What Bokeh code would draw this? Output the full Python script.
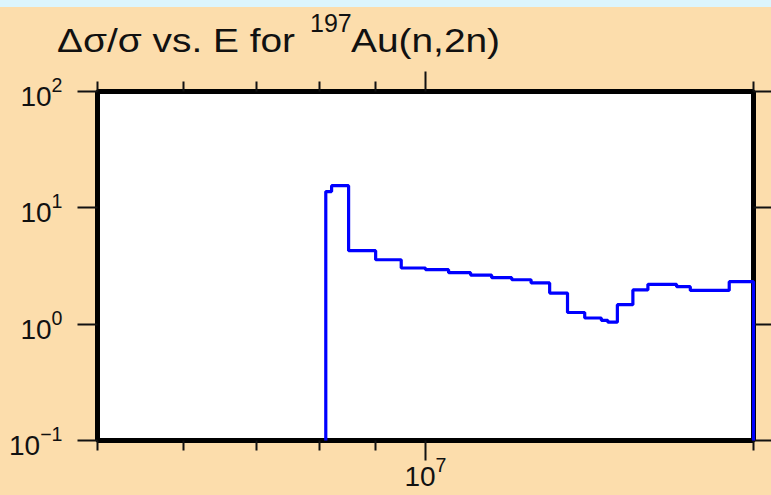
from bokeh.plotting import figure
from bokeh.models import LogAxis, FixedTicker, Div, CustomJSTickFormatter, LogTickFormatter
from bokeh.layouts import column
from bokeh.embed import file_html
from bokeh.resources import INLINE

# ---- data ----
title_main = "Δσ/σ vs. E for "
title_sup = "197"
title_tail = "Au(n,2n)"

# group boundaries (MeV) and relative uncertainty per group
edges_mev = [8.1, 8.2, 8.5, 9.0, 9.5, 10.0, 10.5, 11.0, 11.5, 12.0, 12.5, 13.0,
             13.5, 14.0, 14.5, 14.7, 15.0, 15.5, 16.0, 17.0, 17.5, 19.0, 20.0]
rel_unc = [13.8, 15.5, 4.28, 3.58, 3.04, 2.94, 2.77, 2.64, 2.51, 2.41, 2.26,
           1.85, 1.26, 1.13, 1.08, 1.04, 1.47, 1.97, 2.20, 2.10, 1.95, 2.32]

x_start_mev, x_end_mev = 5.0, 20.0
y_start, y_end = 0.1, 100.0
y_tick_exps = [-1, 0, 1, 2]
x_major_exps = [7]
x_minor_mev = [5, 6, 7, 8, 9, 20]

PEACH = "#FCDDAC"
CYAN = "#DCF5FD"
FONT = "Liberation Sans"

xs = [edges_mev[0] * 1e6] + [e * 1e6 for e in edges_mev]
ys = [y_start] + rel_unc + [y_start]

p = figure(width=771, height=427, x_axis_type="log", y_axis_type="log",
           x_range=(x_start_mev * 1e6, x_end_mev * 1e6), y_range=(y_start, y_end),
           output_backend="svg", toolbar_location=None,
           min_border_left=97, min_border_right=18, min_border_top=23, min_border_bottom=55)
p.background_fill_color = "white"
p.border_fill_color = PEACH
p.outline_line_color = "black"
p.outline_line_width = 5
p.grid.visible = False

p.step(xs, ys, mode="after", line_color="#0000FF", line_width=3.2, level="overlay")

blank = CustomJSTickFormatter(code="return ''")
x_ticker = FixedTicker(ticks=[10.0 ** e for e in x_major_exps],
                       minor_ticks=[m * 1e6 for m in x_minor_mev])
y_ticker = FixedTicker(ticks=[10.0 ** e for e in y_tick_exps], minor_ticks=[])

top_axis = LogAxis()
right_axis = LogAxis()
p.add_layout(top_axis, "above")
p.add_layout(right_axis, "right")

def style(ax, ticker, major_out, minor_out, show_labels, standoff=0):
    ax.ticker = ticker
    ax.axis_line_color = None
    ax.major_tick_in = 0
    ax.minor_tick_in = 0
    ax.major_tick_out = major_out
    ax.minor_tick_out = minor_out
    ax.major_tick_line_color = "#111111"
    ax.minor_tick_line_color = "#111111"
    ax.major_tick_line_width = 2
    ax.minor_tick_line_width = 2
    ax.major_label_standoff = standoff
    if show_labels:
        ax.formatter = LogTickFormatter()
        ax.major_label_text_font = FONT
        ax.major_label_text_font_size = "28px"
        ax.major_label_text_color = "#111111"
    else:
        ax.formatter = blank
        ax.major_label_text_font_size = "1px"

style(p.below[0], x_ticker, 20, 10, True, -4)
style(top_axis, x_ticker, 20, 10, False)
style(p.left[0], y_ticker, 20, 0, True, 15)
style(right_axis, y_ticker, 18, 0, False)

span = ('<span style="position:absolute;left:{left}px;top:{top}px;font-size:{size}px;'
        'line-height:1;white-space:pre;transform:scaleX({sx});transform-origin:0 0">{text}</span>')
title_html = (
    '<div style="position:relative;width:771px;height:61px;'
    "font-family:'Liberation Sans';color:#111111;\">"
    + span.format(left=57, top=17, size=33.5, sx=1.16, text=title_main)
    + span.format(left=310, top=3.5, size=25, sx=1.0, text=title_sup)
    + span.format(left=351, top=17, size=33.5, sx=1.16, text=title_tail)
    + '</div>'
)

strip = Div(text="", width=771, height=7, margin=0,
            styles={"background-color": CYAN})
title_div = Div(text=title_html, width=771, height=61, margin=0,
                styles={"background-color": PEACH})
layout = column(strip, title_div, p, spacing=0,
                styles={"background-color": PEACH})

open("out.html", "w").write(file_html(layout, INLINE))
